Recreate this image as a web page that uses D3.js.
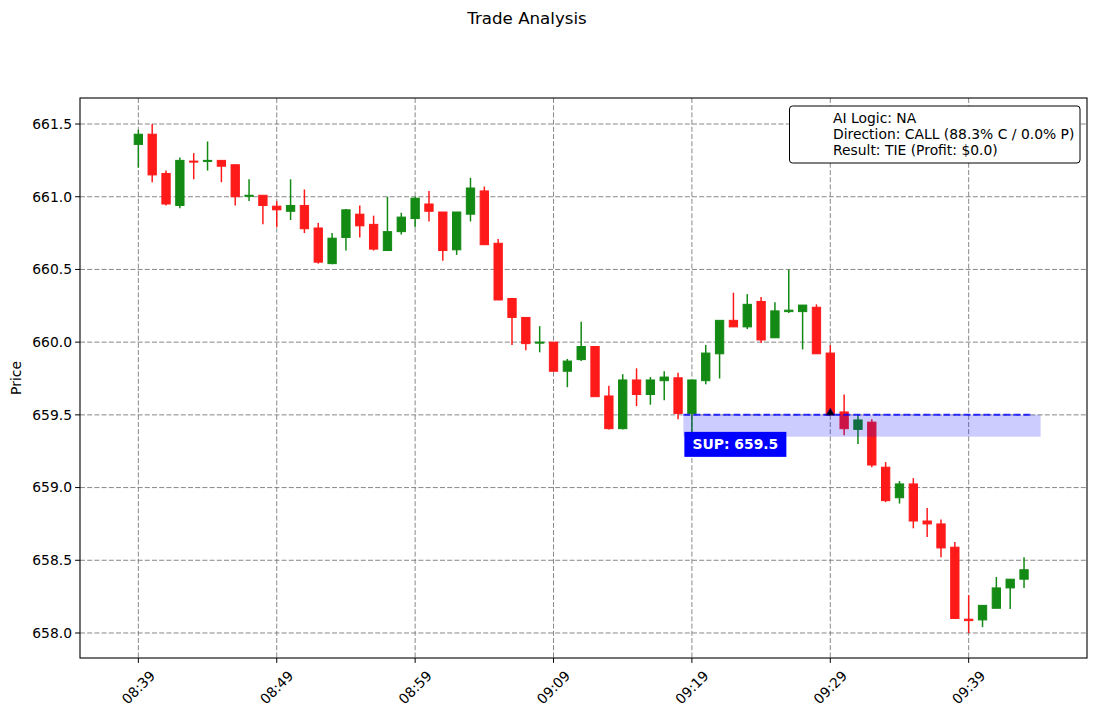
<!DOCTYPE html>
<html>
<head>
<meta charset="utf-8">
<script src="https://cdn.jsdelivr.net/npm/d3@7"></script>
<style>
  body { margin: 0; background: #fff; }
  svg { display: block; font-family: "DejaVu Sans", sans-serif; }
</style>
</head>
<body>
<svg id="chart" width="1097" height="716"></svg>
<script>
// ---- DATA ----
const times = ["08:39","08:40","08:41","08:42","08:43","08:44","08:45","08:46","08:47","08:48",
  "08:49","08:50","08:51","08:52","08:53","08:54","08:55","08:56","08:57","08:58",
  "08:59","09:00","09:01","09:02","09:03","09:04","09:05","09:06","09:07","09:08",
  "09:09","09:10","09:11","09:12","09:13","09:14","09:15","09:16","09:17","09:18",
  "09:19","09:20","09:21","09:22","09:23","09:24","09:25","09:26","09:27","09:28",
  "09:29","09:30","09:31","09:32","09:33","09:34","09:35","09:36","09:37","09:38",
  "09:39","09:40","09:41","09:42","09:43"];
const opens = [661.36,661.43,661.16,660.94,661.245,661.245,661.25,661.22,661.005,661.01,
  660.935,660.90,660.94,660.785,660.54,660.72,660.88,660.81,660.63,660.76,
  660.85,660.95,660.895,660.635,660.88,661.04,660.68,660.30,660.17,659.995,
  660.00,659.80,659.88,659.97,659.63,659.405,659.74,659.64,659.735,659.755,
  659.51,659.735,659.92,660.15,660.105,660.28,660.03,660.21,660.21,660.24,
  659.925,659.52,659.40,659.45,659.14,658.93,659.025,658.77,658.75,658.59,
  658.095,658.09,658.17,658.31,658.37];
const highs = [661.46,661.50,661.18,661.27,661.30,661.38,661.25,661.22,661.12,661.01,
  660.97,661.12,661.05,660.82,660.75,660.915,660.94,660.87,661.00,660.89,
  661.00,661.04,660.895,660.895,661.13,661.07,660.71,660.30,660.17,660.11,
  660.00,659.885,660.14,659.97,659.70,659.78,659.82,659.76,659.80,659.79,
  659.74,659.98,660.15,660.34,660.33,660.31,660.275,660.50,660.255,660.26,
  659.98,659.64,659.50,659.47,659.175,659.045,659.065,658.86,658.78,658.625,
  658.26,658.19,658.385,658.37,658.52];
const lows = [661.20,661.10,660.94,660.92,661.12,661.18,661.10,660.94,660.97,660.81,
  660.79,660.84,660.75,660.54,660.535,660.63,660.72,660.63,660.63,660.74,
  660.79,660.83,660.56,660.60,660.83,660.67,660.29,659.98,659.945,659.93,
  659.80,659.69,659.87,659.625,659.40,659.40,659.56,659.57,659.60,659.47,
  659.38,659.71,659.75,660.105,660.09,659.995,660.03,660.20,659.95,659.92,
  659.50,659.36,659.30,659.14,658.90,658.89,658.72,658.66,658.52,658.10,
  658.00,658.04,658.17,658.165,658.31];
const closes = [661.43,661.15,660.95,661.25,661.24,661.25,661.21,661.00,661.01,660.94,
  660.91,660.94,660.78,660.55,660.715,660.91,660.80,660.64,660.76,660.86,
  660.99,660.90,660.63,660.895,661.06,660.67,660.29,660.17,659.99,660.00,
  659.80,659.87,659.97,659.625,659.405,659.74,659.64,659.74,659.76,659.51,
  659.74,659.925,660.15,660.105,660.26,660.015,660.215,660.22,660.255,659.92,
  659.50,659.405,659.465,659.155,658.91,659.025,658.77,658.75,658.585,658.10,
  658.085,658.19,658.31,658.37,658.435];

const xTickLabels = ["08:39","08:49","08:59","09:09","09:19","09:29","09:39"];
const yTickValues = [658.0,658.5,659.0,659.5,660.0,660.5,661.0,661.5];

const supportLevel = [659.5];
const supportZoneLow = [659.35];
const supportStart = ["09:18:23"];
const supportLineEnd = ["09:43:40"];
const supportZoneEnd = ["09:44:12"];
const supportLabel = ["SUP: 659.5"];
const signalTime = ["09:29"];
const signalPrice = [659.5];

const titleText = "Trade Analysis";
const yLabelText = "Price";
const legendLines = ["AI Logic: NA", "Direction: CALL (88.3% C / 0.0% P)", "Result: TIE (Profit: $0.0)"];

// ---- HELPERS ----
const parseT = s => {
  const p = s.split(":").map(Number);
  return new Date(2024, 0, 1, p[0], p[1], p[2] || 0);
};
const candles = times.map((t, i) => ({
  t: parseT(t), o: opens[i], h: highs[i], l: lows[i], c: closes[i]
}));

// ---- LAYOUT ----
const svg = d3.select("#chart");
const pL = 80, pR = 1087, pT = 98, pB = 658;
const fs = "13.89px";

const x = d3.scaleTime()
  .domain([new Date(2024,0,1,8,34,47), new Date(2024,0,1,9,47,33)])
  .range([pL, pR]);
const y = d3.scaleLinear()
  .domain([657.828, 661.679])
  .range([pB, pT]);

const minuteW = x(parseT("08:40")) - x(parseT("08:39"));
const bodyW = minuteW * 0.6;

// grid
const grid = svg.append("g");
grid.selectAll("line.gx").data(xTickLabels).join("line")
  .attr("x1", d => x(parseT(d))).attr("x2", d => x(parseT(d)))
  .attr("y1", pT).attr("y2", pB)
  .attr("stroke", "#7a7a7a").attr("stroke-width", 0.9).attr("stroke-dasharray", "5,2.2");
grid.selectAll("line.gy").data(yTickValues).join("line")
  .attr("x1", pL).attr("x2", pR)
  .attr("y1", d => y(d)).attr("y2", d => y(d))
  .attr("stroke", "#7a7a7a").attr("stroke-width", 0.9).attr("stroke-dasharray", "5,2.2");

// candles
const green = "#138a13", red = "#ff1a1a";
const cg = svg.append("g");
cg.selectAll("line.wick").data(candles).join("line")
  .attr("x1", d => x(d.t)).attr("x2", d => x(d.t))
  .attr("y1", d => y(d.h)).attr("y2", d => y(d.l))
  .attr("stroke", d => d.c >= d.o ? green : red).attr("stroke-width", 1.5);
cg.selectAll("rect.body").data(candles).join("rect")
  .attr("x", d => x(d.t) - bodyW / 2)
  .attr("width", bodyW)
  .attr("y", d => y(Math.max(d.o, d.c)))
  .attr("height", d => Math.max(1, Math.abs(y(d.o) - y(d.c))))
  .attr("fill", d => d.c >= d.o ? green : red)
  .attr("stroke", d => d.c >= d.o ? green : red)
  .attr("stroke-width", 1);

// support zone
svg.append("rect")
  .attr("x", x(parseT(supportStart[0])))
  .attr("width", x(parseT(supportZoneEnd[0])) - x(parseT(supportStart[0])))
  .attr("y", y(supportLevel[0]))
  .attr("height", y(supportZoneLow[0]) - y(supportLevel[0]))
  .attr("fill", "blue").attr("fill-opacity", 0.2);
svg.append("line")
  .attr("x1", x(parseT(supportStart[0]))).attr("x2", x(parseT(supportLineEnd[0])))
  .attr("y1", y(supportLevel[0])).attr("y2", y(supportLevel[0]))
  .attr("stroke", "blue").attr("stroke-opacity", 0.8).attr("stroke-width", 2)
  .attr("stroke-dasharray", "7,3");

// signal marker
svg.append("path")
  .attr("d", d3.symbol().type(d3.symbolTriangle).size(26))
  .attr("transform", `translate(${x(parseT(signalTime[0]))},${y(signalPrice[0]) - 2})`)
  .attr("fill", "black").attr("stroke", "#000080").attr("stroke-width", 0.8);

// support label
const lbl = svg.append("g")
  .attr("transform", `translate(${x(parseT(supportStart[0])) + 1},${y(supportLevel[0]) + 17})`);
lbl.append("rect").attr("x", 0).attr("y", 0).attr("width", 102).attr("height", 25).attr("fill", "blue");
lbl.append("text").attr("x", 51).attr("y", 17.5).attr("text-anchor", "middle")
  .attr("fill", "white").attr("font-weight", "bold").attr("font-size", fs)
  .text(supportLabel[0]);

// axes frame
svg.append("rect").attr("x", pL).attr("y", pT).attr("width", pR - pL).attr("height", pB - pT)
  .attr("fill", "none").attr("stroke", "black").attr("stroke-width", 1.1);

// y ticks
const yt = svg.append("g");
yt.selectAll("line").data(yTickValues).join("line")
  .attr("x1", pL - 4.9).attr("x2", pL).attr("y1", d => y(d)).attr("y2", d => y(d))
  .attr("stroke", "black");
yt.selectAll("text").data(yTickValues).join("text")
  .attr("x", pL - 8).attr("y", d => y(d)).attr("dy", "0.35em")
  .attr("text-anchor", "end").attr("font-size", fs).attr("fill", "#000")
  .text(d => d3.format(".1f")(d));

// x ticks
const xt = svg.append("g");
xt.selectAll("line").data(xTickLabels).join("line")
  .attr("x1", d => x(parseT(d))).attr("x2", d => x(parseT(d)))
  .attr("y1", pB).attr("y2", pB + 4.9).attr("stroke", "black");
xt.selectAll("text").data(xTickLabels).join("text")
  .attr("transform", d => `translate(${x(parseT(d))},${pB + 29.5}) rotate(-45)`)
  .attr("text-anchor", "middle").attr("dy", "0.35em")
  .attr("font-size", fs).attr("fill", "#000")
  .text(d => d);

// y label
svg.append("text")
  .attr("transform", `translate(21,${(pT + pB) / 2}) rotate(-90)`)
  .attr("text-anchor", "middle").attr("font-size", fs).text(yLabelText);

// title
svg.append("text").attr("x", 527).attr("y", 24).attr("text-anchor", "middle")
  .attr("font-size", "16.67px").text(titleText);

// legend
const lg = svg.append("g");
lg.append("rect").attr("x", 789.5).attr("y", 106).attr("width", 290.5).attr("height", 57)
  .attr("rx", 3).attr("fill", "white").attr("stroke", "black").attr("stroke-width", 1);
lg.selectAll("text").data(legendLines).join("text")
  .attr("x", 833).attr("y", (d, i) => 118.5 + i * 16).attr("dy", "0.35em")
  .attr("font-size", fs).text(d => d);
</script>
</body>
</html>
